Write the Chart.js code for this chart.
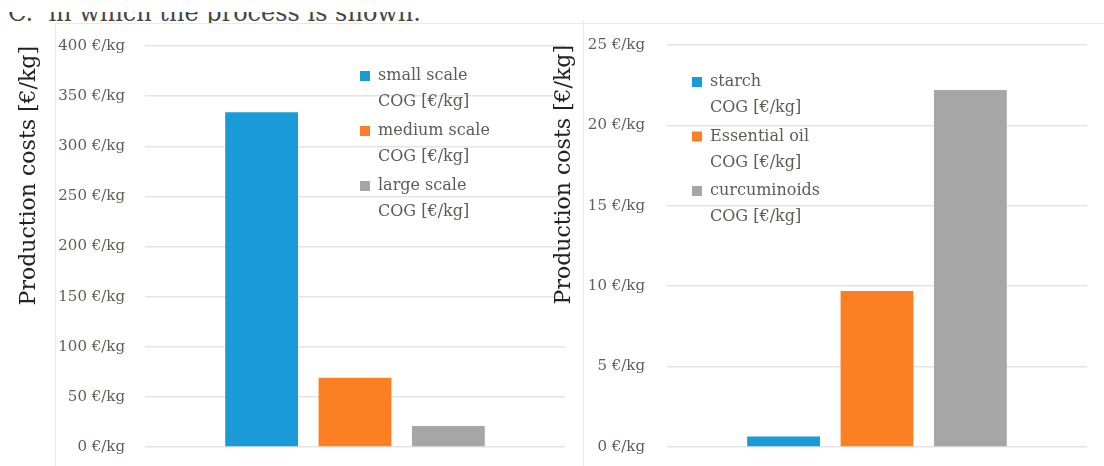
<!DOCTYPE html>
<html>
<head>
<meta charset="utf-8">
<script src="https://cdn.jsdelivr.net/npm/chart.js@4.4.1/dist/chart.umd.min.js"></script>
<style>
  html, body { margin: 0; padding: 0; background: #fff; }
  body { width: 1104px; height: 466px; position: relative; overflow: hidden; font-family: "DejaVu Serif", serif; }
  canvas { position: absolute; top: 0; }
  #costLeft { left: 0; }
  #costRight { left: 540px; }
  .frame { position: absolute; background: #e9e9e9; }
  #clipLine { position: absolute; left: 0; top: 12px; width: 470px; height: 11px; overflow: hidden; }
  #clipLine span { position: absolute; left: 8px; top: -13px; font-size: 24px; line-height: 28px; color: #454545; white-space: nowrap; }
</style>
</head>
<body>
<div id="clipLine"><span>C.&nbsp; in which the process is shown.</span></div>
<div class="frame" style="left:55px; top:23px; width:1049px; height:1px;"></div>
<div class="frame" style="left:55px; top:23px; width:1px; height:443px;"></div>
<div class="frame" style="left:583px; top:20px; width:1px; height:446px;"></div>
<canvas id="costLeft" width="580" height="466"></canvas>
<canvas id="costRight" width="564" height="466"></canvas>
<script>
// Cost of goods per production scale (€/kg)
const scaleNames = ['small scale', 'medium scale', 'large scale'];
const scaleCosts = [334, 69, 21];
const scaleTicks = [0, 50, 100, 150, 200, 250, 300, 350, 400];

// Cost of goods per product (€/kg)
const productNames = ['starch', 'Essential oil', 'curcuminoids'];
const productCosts = [0.65, 9.7, 22.2];
const productTicks = [0, 5, 10, 15, 20, 25];

const unitLine = 'COG [€/kg]';
const axisTitle = 'Production costs [€/kg]';
const seriesColors = ['#1a9ad6', '#fd7f23', '#a6a6a6'];

const serif = '"DejaVu Serif", serif';

// Two-line legend drawn inside the plot area
const cogLegend = {
  id: 'cogLegend',
  afterDraw(chart, args, opts) {
    const { ctx, chartArea } = chart;
    ctx.save();
    ctx.font = '16px ' + serif;
    ctx.textBaseline = 'middle';
    ctx.textAlign = 'left';
    chart.data.datasets.forEach((ds, i) => {
      const x = chartArea.left + opts.x;
      const y = chartArea.top + opts.y + i * opts.step;
      ctx.fillStyle = ds.backgroundColor;
      ctx.fillRect(x, y - 5, 10, 10);
      ctx.fillStyle = '#5f5a58';
      ds.legendLines.forEach((ln, j) => ctx.fillText(ln, x + 18, y + j * opts.lineStep));
    });
    ctx.restore();
  }
};

function buildChart(id, names, values, ticks, layout) {
  const datasets = names.map((name, i) => ({
    label: name + ' ' + unitLine,
    legendLines: [name, unitLine],
    data: [values[i]],
    backgroundColor: seriesColors[i],
    borderWidth: 0,
    barPercentage: 0.78,
    categoryPercentage: 0.667
  }));
  return new Chart(document.getElementById(id), {
    type: 'bar',
    data: { labels: [''], datasets },
    plugins: [cogLegend],
    options: {
      responsive: false,
      animation: false,
      devicePixelRatio: 1,
      layout: { padding: layout.padding },
      plugins: {
        legend: { display: false },
        tooltip: { enabled: false },
        cogLegend: layout.legend
      },
      scales: {
        x: { display: false },
        y: {
          min: ticks[0],
          max: ticks[ticks.length - 1],
          afterBuildTicks(scale) { scale.ticks = ticks.map(v => ({ value: v })); },
          afterFit(scale) {
            scale.width = layout.axisWidth;
            scale.paddingTop = 0;
            scale.paddingBottom = 0;
          },
          border: { display: false },
          grid: { color: '#e4e4e4', lineWidth: 1.5, drawTicks: false },
          ticks: {
            padding: layout.tickPad,
            color: '#625b58',
            font: { family: serif, size: 15 },
            callback: v => v + ' €/kg'
          },
          title: {
            display: true,
            text: axisTitle,
            align: 'end',
            color: '#222',
            font: { family: serif, size: 22 },
            padding: { top: layout.titlePad, bottom: 0 }
          }
        }
      }
    }
  });
}

buildChart('costLeft', scaleNames, scaleCosts, scaleTicks, {
  padding: { left: 0, right: 15, top: 46, bottom: 19 },
  axisWidth: 145,
  tickPad: 20,
  titlePad: 16,
  legend: { x: 215, y: 30, step: 55, lineStep: 25.5 }
});

buildChart('costRight', productNames, productCosts, productTicks, {
  padding: { left: 0, right: 17, top: 45, bottom: 19 },
  axisWidth: 127,
  tickPad: 22,
  titlePad: 11,
  legend: { x: 25, y: 37, step: 54.5, lineStep: 26 }
});
</script>
</body>
</html>
